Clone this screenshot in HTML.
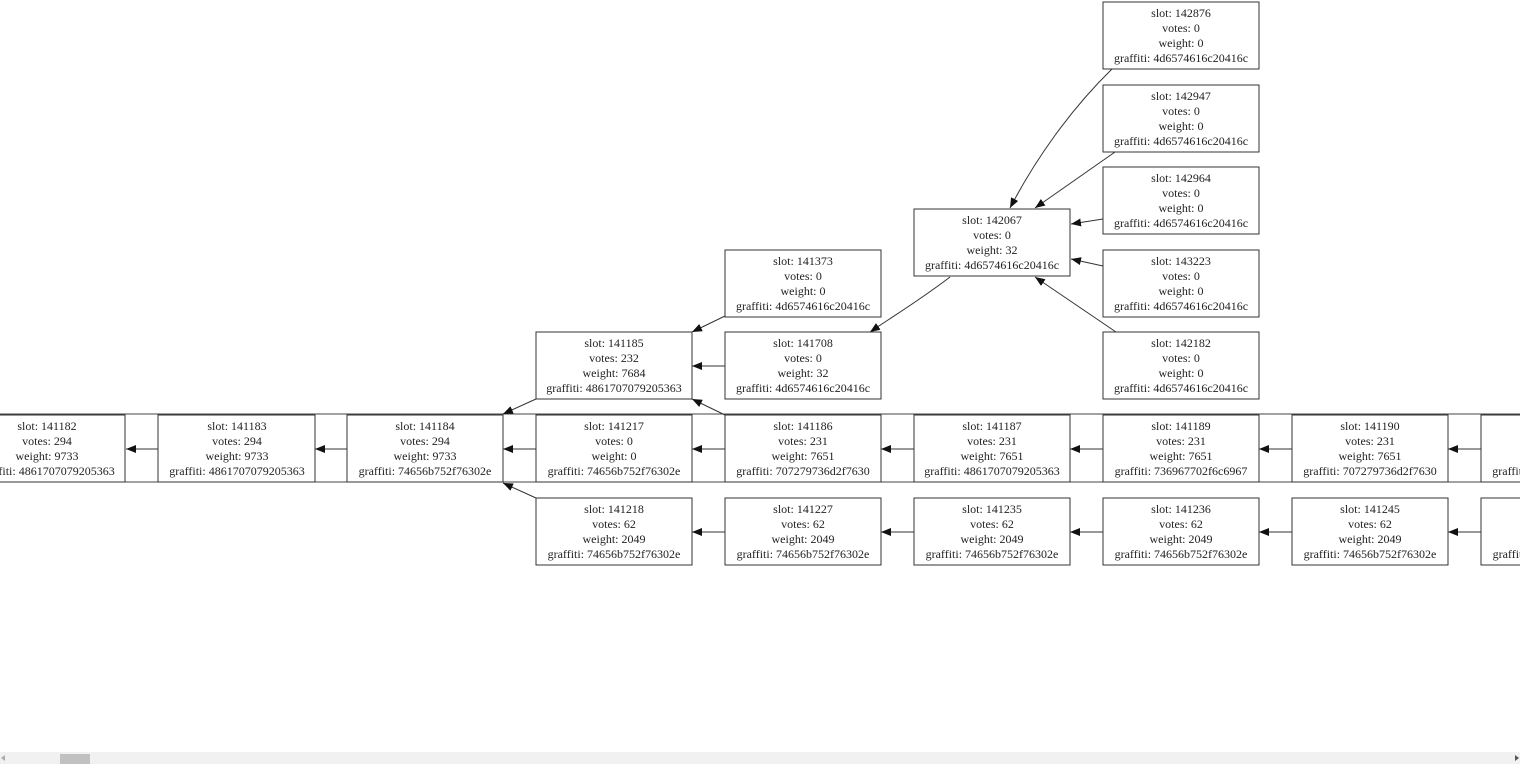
<!DOCTYPE html>
<html><head><meta charset="utf-8"><style>
html,body{margin:0;padding:0;background:#fff;width:1520px;height:764px;overflow:hidden}
svg{position:absolute;left:0;top:0}
text{font-family:"Liberation Serif",serif;font-size:12px;fill:#222;text-anchor:middle}
rect.n{fill:#fff;stroke:#333;stroke-width:1}
path.e{fill:none;stroke:#333;stroke-width:1}
</style></head><body>
<svg width="1520" height="764" viewBox="0 0 1520 764">
<defs><marker id="a" markerWidth="10" markerHeight="8" refX="10" refY="4" orient="auto" markerUnits="userSpaceOnUse"><path d="M0,0 L10,4 L0,8 z" fill="#111"/></marker></defs>
<!-- cluster lines -->
<rect x="-2" y="414" width="1530" height="68" fill="none" stroke="#444"/>
<!-- edges -->
<g class="edges">
<path class="e" d="M1112,69 C1070,110 1035,160 1010,208" marker-end="url(#a)"/>
<path class="e" d="M1115,152 L1035,208" marker-end="url(#a)"/>
<path class="e" d="M1103,219 L1071,224" marker-end="url(#a)"/>
<path class="e" d="M1103,266 L1071,259" marker-end="url(#a)"/>
<path class="e" d="M1116,332 L1035,277" marker-end="url(#a)"/>
<path class="e" d="M950,277 C920,300 895,315 870,332" marker-end="url(#a)"/>
<path class="e" d="M725,316 L692,332" marker-end="url(#a)"/>
<path class="e" d="M725,366 L692,366" marker-end="url(#a)"/>
<path class="e" d="M725,415 L692,399" marker-end="url(#a)"/>
<path class="e" d="M536,399 L503,414" marker-end="url(#a)"/>
<path class="e" d="M536,498 L503,483" marker-end="url(#a)"/>
<path class="e" d="M1481,449 L1448,449" marker-end="url(#a)"/>
<path class="e" d="M1292,449 L1259,449" marker-end="url(#a)"/>
<path class="e" d="M1103,449 L1070,449" marker-end="url(#a)"/>
<path class="e" d="M914,449 L881,449" marker-end="url(#a)"/>
<path class="e" d="M725,449 L692,449" marker-end="url(#a)"/>
<path class="e" d="M536,449 L503,449" marker-end="url(#a)"/>
<path class="e" d="M347,449 L315,449" marker-end="url(#a)"/>
<path class="e" d="M158,449 L126,449" marker-end="url(#a)"/>
<path class="e" d="M1481,532 L1448,532" marker-end="url(#a)"/>
<path class="e" d="M1292,532 L1259,532" marker-end="url(#a)"/>
<path class="e" d="M1103,532 L1070,532" marker-end="url(#a)"/>
<path class="e" d="M914,532 L881,532" marker-end="url(#a)"/>
<path class="e" d="M725,532 L692,532" marker-end="url(#a)"/>
</g>
<!-- nodes -->
<g>
<rect class="n" x="1103" y="2" width="156" height="67"/><text x="1181" y="17">slot: 142876</text><text x="1181" y="32">votes: 0</text><text x="1181" y="47">weight: 0</text><text x="1181" y="62">graffiti: 4d6574616c20416c</text>
<rect class="n" x="1103" y="85" width="156" height="67"/><text x="1181" y="100">slot: 142947</text><text x="1181" y="115">votes: 0</text><text x="1181" y="130">weight: 0</text><text x="1181" y="145">graffiti: 4d6574616c20416c</text>
<rect class="n" x="1103" y="167" width="156" height="67"/><text x="1181" y="182">slot: 142964</text><text x="1181" y="197">votes: 0</text><text x="1181" y="212">weight: 0</text><text x="1181" y="227">graffiti: 4d6574616c20416c</text>
<rect class="n" x="914" y="209" width="156" height="67"/><text x="992" y="224">slot: 142067</text><text x="992" y="239">votes: 0</text><text x="992" y="254">weight: 32</text><text x="992" y="269">graffiti: 4d6574616c20416c</text>
<rect class="n" x="1103" y="250" width="156" height="67"/><text x="1181" y="265">slot: 143223</text><text x="1181" y="280">votes: 0</text><text x="1181" y="295">weight: 0</text><text x="1181" y="310">graffiti: 4d6574616c20416c</text>
<rect class="n" x="725" y="250" width="156" height="67"/><text x="803" y="265">slot: 141373</text><text x="803" y="280">votes: 0</text><text x="803" y="295">weight: 0</text><text x="803" y="310">graffiti: 4d6574616c20416c</text>
<rect class="n" x="536" y="332" width="156" height="67"/><text x="614" y="347">slot: 141185</text><text x="614" y="362">votes: 232</text><text x="614" y="377">weight: 7684</text><text x="614" y="392">graffiti: 4861707079205363</text>
<rect class="n" x="725" y="332" width="156" height="67"/><text x="803" y="347">slot: 141708</text><text x="803" y="362">votes: 0</text><text x="803" y="377">weight: 32</text><text x="803" y="392">graffiti: 4d6574616c20416c</text>
<rect class="n" x="1103" y="332" width="156" height="67"/><text x="1181" y="347">slot: 142182</text><text x="1181" y="362">votes: 0</text><text x="1181" y="377">weight: 0</text><text x="1181" y="392">graffiti: 4d6574616c20416c</text>

<rect class="n" x="-31" y="415" width="156" height="67"/><text x="47" y="430">slot: 141182</text><text x="47" y="445">votes: 294</text><text x="47" y="460">weight: 9733</text><text x="47" y="475">graffiti: 4861707079205363</text>
<rect class="n" x="158" y="415" width="157" height="67"/><text x="237" y="430">slot: 141183</text><text x="237" y="445">votes: 294</text><text x="237" y="460">weight: 9733</text><text x="237" y="475">graffiti: 4861707079205363</text>
<rect class="n" x="347" y="415" width="156" height="67"/><text x="425" y="430">slot: 141184</text><text x="425" y="445">votes: 294</text><text x="425" y="460">weight: 9733</text><text x="425" y="475">graffiti: 74656b752f76302e</text>
<rect class="n" x="536" y="415" width="156" height="67"/><text x="614" y="430">slot: 141217</text><text x="614" y="445">votes: 0</text><text x="614" y="460">weight: 0</text><text x="614" y="475">graffiti: 74656b752f76302e</text>
<rect class="n" x="725" y="415" width="156" height="67"/><text x="803" y="430">slot: 141186</text><text x="803" y="445">votes: 231</text><text x="803" y="460">weight: 7651</text><text x="803" y="475">graffiti: 707279736d2f7630</text>
<rect class="n" x="914" y="415" width="156" height="67"/><text x="992" y="430">slot: 141187</text><text x="992" y="445">votes: 231</text><text x="992" y="460">weight: 7651</text><text x="992" y="475">graffiti: 4861707079205363</text>
<rect class="n" x="1103" y="415" width="156" height="67"/><text x="1181" y="430">slot: 141189</text><text x="1181" y="445">votes: 231</text><text x="1181" y="460">weight: 7651</text><text x="1181" y="475">graffiti: 736967702f6c6967</text>
<rect class="n" x="1292" y="415" width="156" height="67"/><text x="1370" y="430">slot: 141190</text><text x="1370" y="445">votes: 231</text><text x="1370" y="460">weight: 7651</text><text x="1370" y="475">graffiti: 707279736d2f7630</text>
<rect class="n" x="1481" y="415" width="156" height="67"/><text x="1559" y="430">slot: 141191</text><text x="1559" y="445">votes: 231</text><text x="1559" y="460">weight: 7651</text><text x="1559" y="475">graffiti: 707279736d2f7630</text>

<rect class="n" x="536" y="498" width="156" height="67"/><text x="614" y="513">slot: 141218</text><text x="614" y="528">votes: 62</text><text x="614" y="543">weight: 2049</text><text x="614" y="558">graffiti: 74656b752f76302e</text>
<rect class="n" x="725" y="498" width="156" height="67"/><text x="803" y="513">slot: 141227</text><text x="803" y="528">votes: 62</text><text x="803" y="543">weight: 2049</text><text x="803" y="558">graffiti: 74656b752f76302e</text>
<rect class="n" x="914" y="498" width="156" height="67"/><text x="992" y="513">slot: 141235</text><text x="992" y="528">votes: 62</text><text x="992" y="543">weight: 2049</text><text x="992" y="558">graffiti: 74656b752f76302e</text>
<rect class="n" x="1103" y="498" width="156" height="67"/><text x="1181" y="513">slot: 141236</text><text x="1181" y="528">votes: 62</text><text x="1181" y="543">weight: 2049</text><text x="1181" y="558">graffiti: 74656b752f76302e</text>
<rect class="n" x="1292" y="498" width="156" height="67"/><text x="1370" y="513">slot: 141245</text><text x="1370" y="528">votes: 62</text><text x="1370" y="543">weight: 2049</text><text x="1370" y="558">graffiti: 74656b752f76302e</text>
<rect class="n" x="1481" y="498" width="156" height="67"/><text x="1559" y="513">slot: 141246</text><text x="1559" y="528">votes: 62</text><text x="1559" y="543">weight: 2049</text><text x="1559" y="558">graffiti: 74656b752f76302e</text>
</g>
<!-- scrollbar -->
<rect x="0" y="752" width="1520" height="12" fill="#f1f1f1"/>
<rect x="60" y="754" width="30" height="10" fill="#c1c1c1"/>
<path d="M1515,755 L1519,758 L1515,761 z" fill="#555"/>
<path d="M5,755 L1,758 L5,761 z" fill="#aaa"/>
</svg>
</body></html>
